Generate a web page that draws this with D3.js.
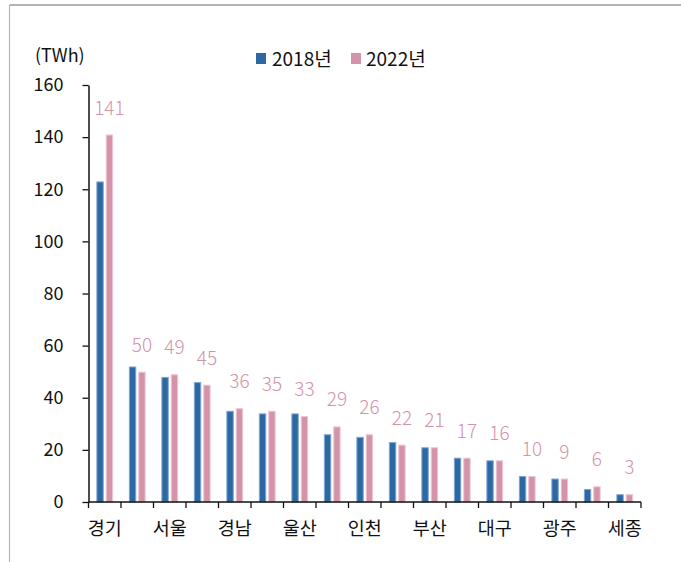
<!DOCTYPE html>
<html>
<head>
<meta charset="utf-8">
<script src="https://cdn.jsdelivr.net/npm/d3@7"></script>
<style>
  html, body { margin: 0; padding: 0; background: #fff; }
  svg { display: block; }
  text { font-family: "Noto Sans CJK KR", "Noto Sans", sans-serif; }
</style>
</head>
<body>
<svg id="chart" width="681" height="562"></svg>
<script>
// Regional electricity consumption, 2018 vs 2022 (TWh)
const regions = ['경기','충남','서울','경북','경남','전남','울산','충북','인천','전북','부산','강원','대구','대전','광주','제주','세종'];
const values2018 = [123, 52, 48, 46, 35, 34, 34, 26, 25, 23, 21, 17, 16, 10, 9, 5, 3];
const values2022 = [141, 50, 49, 45, 36, 35, 33, 29, 26, 22, 21, 17, 16, 10, 9, 6, 3];
const seriesNames = ['2018년', '2022년'];
const yTicks = [0, 20, 40, 60, 80, 100, 120, 140, 160];

const colors = { '2018년': '#2c69a3', '2022년': '#d493a8' };
const strokes = { '2018년': '#7fa6d0', '2022년': '#ecc6d2' };

const svg = d3.select('#chart');

// frame lines (top and left)
svg.append('line').attr('x1', 9.5).attr('x2', 681).attr('y1', 5).attr('y2', 5)
  .attr('stroke', '#9a9a9a').attr('stroke-width', 1.5);
svg.append('line').attr('x1', 9.5).attr('x2', 9.5).attr('y1', 5).attr('y2', 562)
  .attr('stroke', '#b5b5b5').attr('stroke-width', 1.2);

const x0 = d3.scaleBand().domain(regions).range([88.5, 641]).padding(0);
const x1 = d3.scaleBand().domain(seriesNames).range([0, x0.bandwidth()])
  .paddingInner(0.21).paddingOuter(0.84);
const y = d3.scaleLinear().domain([0, 160]).range([502, 85]);

const rows = regions.map((r, i) => ({ region: r, '2018년': values2018[i], '2022년': values2022[i] }));

// bars
const groups = svg.append('g').selectAll('g').data(rows).join('g')
  .attr('transform', d => `translate(${x0(d.region)},0)`);
groups.selectAll('rect')
  .data(d => seriesNames.map(s => ({ key: s, value: d[s] })))
  .join('rect')
  .attr('x', d => x1(d.key) + 0.5)
  .attr('width', x1.bandwidth() - 1)
  .attr('y', d => y(d.value) + 0.5)
  .attr('height', d => Math.max(0, y(0) - y(d.value) - 0.5))
  .attr('fill', d => colors[d.key])
  .attr('stroke', d => strokes[d.key])
  .attr('stroke-width', 1);

// value labels for 2022
svg.append('g').selectAll('text').data(rows).join('text')
  .attr('x', d => x0(d.region) + x1('2022년') + x1.bandwidth() / 2)
  .attr('y', d => y(d['2022년']) - 20)
  .attr('text-anchor', 'middle')
  .attr('font-size', 19)
  .attr('font-weight', 300)
  .attr('fill', '#d494a8')
  .text(d => d['2022년']);

// y axis
const yAxis = svg.append('g').attr('transform', 'translate(88.5,0)')
  .call(d3.axisLeft(y).tickValues(yTicks).tickSize(6).tickPadding(19).tickSizeOuter(0));
yAxis.select('.domain').attr('stroke', '#111').attr('stroke-width', 1.5);
yAxis.selectAll('.tick line').attr('stroke', '#111').attr('stroke-width', 1.3);
yAxis.selectAll('.tick text').attr('font-size', 18).attr('fill', '#111')
  .attr('font-family', '"Noto Sans CJK KR", sans-serif');

// x axis: domain line, ticks on band boundaries, every other label
const xg = svg.append('g');
xg.append('line').attr('x1', 88.5).attr('x2', 641).attr('y1', 502).attr('y2', 502)
  .attr('stroke', '#111').attr('stroke-width', 1.5);
const boundaries = regions.map(r => x0(r)).concat([x0(regions[regions.length - 1]) + x0.bandwidth()]);
xg.selectAll('line.tk').data(boundaries).join('line').attr('class', 'tk')
  .attr('x1', d => d).attr('x2', d => d).attr('y1', 502).attr('y2', 508)
  .attr('stroke', '#111').attr('stroke-width', 1.3);
xg.selectAll('text').data(regions.filter((r, i) => i % 2 === 0)).join('text')
  .attr('x', d => x0(d) + x0.bandwidth() / 2)
  .attr('y', 535)
  .attr('text-anchor', 'middle')
  .attr('font-size', 18.5)
  .attr('fill', '#111')
  .text(d => d);

// unit label
svg.append('text').attr('x', 35).attr('y', 62).attr('font-size', 18).attr('fill', '#111').text('(TWh)');

// legend
const legendItems = [
  { key: '2018년', sx: 256, tx: 272 },
  { key: '2022년', sx: 351, tx: 366 }
];
const lg = svg.append('g');
lg.selectAll('rect').data(legendItems).join('rect')
  .attr('x', d => d.sx).attr('y', 53).attr('width', 10).attr('height', 11)
  .attr('fill', d => colors[d.key]);
lg.selectAll('text').data(legendItems).join('text')
  .attr('x', d => d.tx).attr('y', 66).attr('font-size', 19).attr('fill', '#111')
  .text(d => d.key);
</script>
</body>
</html>
